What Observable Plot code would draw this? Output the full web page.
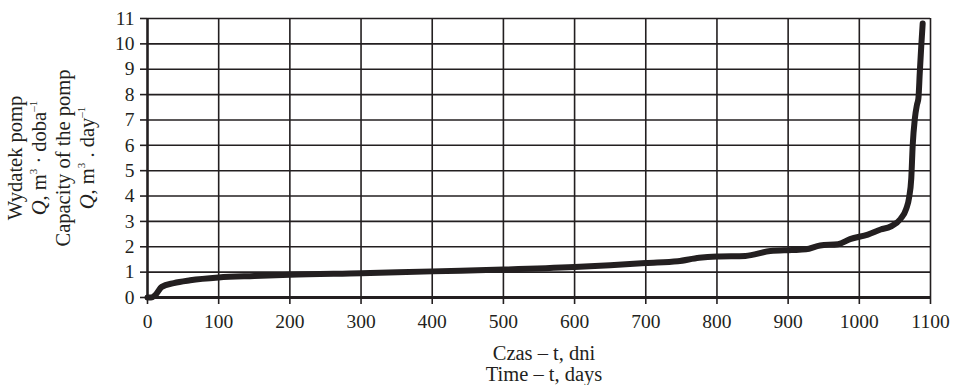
<!DOCTYPE html>
<html>
<head>
<meta charset="utf-8">
<script src="https://cdn.jsdelivr.net/npm/d3@7"></script>
<script src="https://cdn.jsdelivr.net/npm/@observablehq/plot@0.6"></script>
<style>
  body { margin: 0; background: #fff; }
  svg { display: block; }
</style>
</head>
<body>
<div id="chart"></div>
<script>
// Time, days
const days = [0, 5, 11, 20, 37, 60, 100, 150, 200, 300, 400, 500, 600, 650, 700, 745, 775, 800, 840, 875, 905, 925, 945, 970, 987, 1012, 1030, 1044, 1058, 1066, 1070, 1073, 1075, 1078, 1081, 1083, 1085, 1087, 1089];
// Capacity of the pump, m3/day
const capacity = [0, 0, 0.1, 0.42, 0.57, 0.68, 0.79, 0.85, 0.9, 0.96, 1.03, 1.1, 1.2, 1.27, 1.36, 1.43, 1.57, 1.62, 1.64, 1.83, 1.87, 1.9, 2.05, 2.1, 2.3, 2.48, 2.68, 2.8, 3.1, 3.5, 3.95, 4.7, 6.0, 7.05, 7.6, 7.85, 8.9, 9.9, 10.8];
const xTicks = [0, 100, 200, 300, 400, 500, 600, 700, 800, 900, 1000, 1100];
const yTicks = [0, 1, 2, 3, 4, 5, 6, 7, 8, 9, 10, 11];
const xTitle = ["Czas – t, dni", "Time – t, days"];

const data = days.map((t, i) => ({t, q: capacity[i]}));
const ink = "#231f20";
const font = "'Liberation Serif', 'Times New Roman', serif";
const fs = 19.5;
const ts = 20.5;

const chart = Plot.plot({
  width: 958,
  height: 385,
  marginTop: 18,
  marginBottom: 88,
  marginLeft: 147,
  marginRight: 28,
  style: {fontFamily: font, fontSize: fs + "px", color: ink, background: "#fff"},
  x: {domain: [0, 1100]},
  y: {domain: [0, 11]},
  marks: [
    Plot.gridX(xTicks, {stroke: ink, strokeOpacity: 1, strokeWidth: 1.6}),
    Plot.gridY(yTicks, {stroke: ink, strokeOpacity: 1, strokeWidth: 1.6}),
    Plot.axisX(xTicks, {tickSize: 7, tickPadding: 10, label: null, stroke: ink, strokeWidth: 1.6, fill: ink, fontSize: fs, tickFormat: d => String(d)}),
    Plot.axisY(yTicks, {tickSize: 7, tickPadding: 6, label: null, stroke: ink, strokeWidth: 1.6, fill: ink, fontSize: fs, tickFormat: d => String(d)}),
    Plot.ruleY([0], {stroke: ink, strokeWidth: 3}),
    Plot.ruleX([0], {stroke: ink, strokeWidth: 2.4}),
    Plot.line(data, {x: "t", y: "q", stroke: ink, strokeWidth: 6, strokeLinejoin: "round", strokeLinecap: "round", curve: "monotone-x"}),
    Plot.text([xTitle.join("\n")], {frameAnchor: "bottom", lineAnchor: "middle", dy: 66, dx: 5, lineHeight: 1.03, fill: ink, fontSize: ts})
  ]
});

document.getElementById("chart").appendChild(chart);

// Y-axis title (rotated, four lines, with italic Q and superscripts)
const svg = d3.select(chart);
const g = svg.append("g")
  .attr("font-family", font)
  .attr("font-size", ts)
  .attr("fill", ink)
  .attr("text-anchor", "middle");

function line(x, build) {
  const t = g.append("text").attr("transform", `translate(${x},158) rotate(-90)`);
  build(t);
}
line(22, t => t.text("Wydatek pomp"));
line(46, t => {
  t.append("tspan").attr("font-style", "italic").text("Q");
  t.append("tspan").text(", m");
  t.append("tspan").attr("font-size", 11).attr("dy", -9).text("3");
  t.append("tspan").attr("dy", 9).text(" · doba");
  t.append("tspan").attr("font-size", 11).attr("dy", -9).text("–1");
});
line(70, t => t.text("Capacity of the pomp"));
line(94, t => {
  t.append("tspan").attr("font-style", "italic").text("Q");
  t.append("tspan").text(", m");
  t.append("tspan").attr("font-size", 11).attr("dy", -9).text("3");
  t.append("tspan").attr("dy", 9).text(" . day");
  t.append("tspan").attr("font-size", 11).attr("dy", -9).text("–1");
});
</script>
</body>
</html>
